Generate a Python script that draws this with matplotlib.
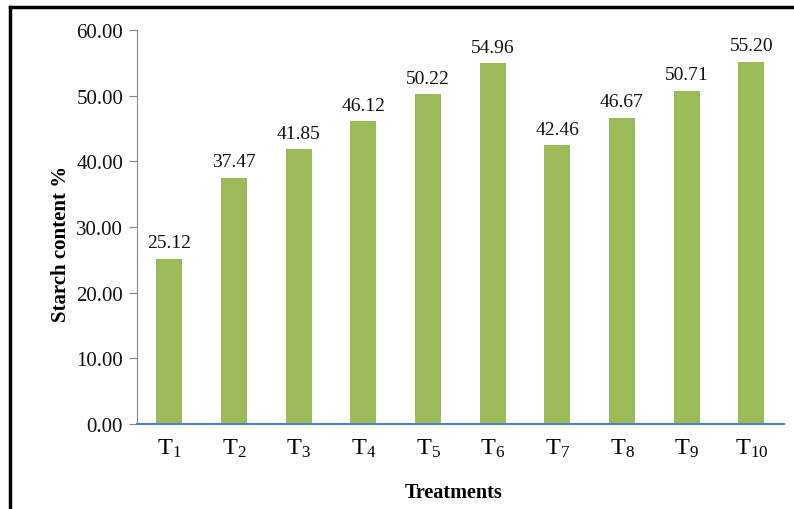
import matplotlib
matplotlib.use("Agg")
import matplotlib.pyplot as plt
from matplotlib.lines import Line2D

treatments = ["1", "2", "3", "4", "5", "6", "7", "8", "9", "10"]
starch = [25.12, 37.47, 41.85, 46.12, 50.22, 54.96, 42.46, 46.67, 50.71, 55.20]
yticks = [0, 10, 20, 30, 40, 50, 60]

plt.rcParams["font.family"] = ["Liberation Serif", "DejaVu Serif"]
plt.rcParams["mathtext.default"] = "regular"

fig = plt.figure(figsize=(7.94, 5.10), dpi=100)
ax = fig.add_axes([0.1725, 0.1667, 0.8145, 0.7723])

x = list(range(len(starch)))
bars = ax.bar(x, starch, width=0.4, color="#9BBB59", zorder=2)

for xi, v in zip(x, starch):
    ax.annotate(f"{v:.2f}", (xi, v), xytext=(0, 5.5), textcoords="offset points",
                ha="center", va="bottom", fontsize=14, color="#111111")

ax.set_xlim(-0.5, len(starch) - 0.5)
ax.set_ylim(0, 60)
ax.set_yticks(yticks)
ax.set_yticklabels([f"{t:.2f}" for t in yticks], fontsize=15, color="#111111")
ax.set_xticks(x)
ax.set_xticklabels([f"$T_{{{t}}}$" for t in treatments], fontsize=17.5)

ax.tick_params(axis="x", length=0, pad=9)
ax.tick_params(axis="y", length=6, width=0.8, color="#888888", pad=4)

for s in ("top", "right"):
    ax.spines[s].set_visible(False)
ax.spines["left"].set_color("#888888")
ax.spines["left"].set_linewidth(0.8)
ax.spines["bottom"].set_color("#4F81BD")
ax.spines["bottom"].set_linewidth(1.5)
ax.spines["bottom"].set_zorder(3)

ax.set_ylabel("Starch content %", fontsize=15, fontweight="bold")
ax.yaxis.set_label_coords(-0.102, 0.46)
ax.set_xlabel("Treatments", fontsize=14.5, fontweight="bold")
ax.xaxis.set_label_coords(0.49, -0.148)

# outer frame (left and top edges)
fig.add_artist(Line2D([10 / 794, 10 / 794], [0, 1 - 8 / 510], transform=fig.transFigure,
                      color="black", linewidth=2.5))
fig.add_artist(Line2D([10 / 794, 1], [1 - 8 / 510, 1 - 8 / 510], transform=fig.transFigure,
                      color="black", linewidth=2.5))

fig.savefig("out.png", dpi=100)
